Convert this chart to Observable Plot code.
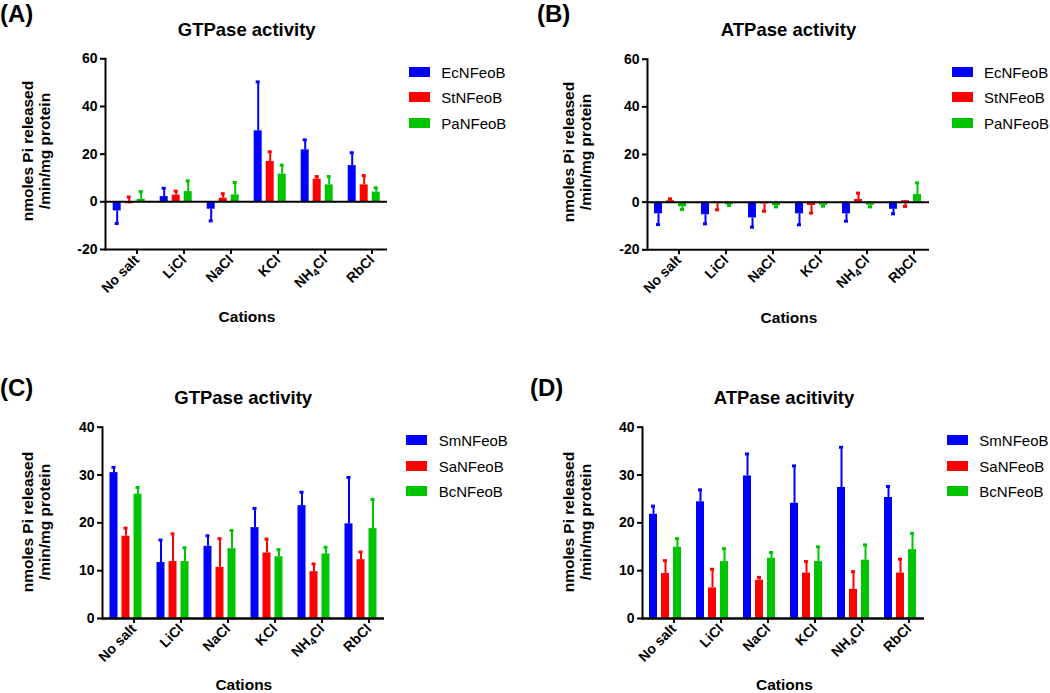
<!DOCTYPE html>
<html><head><meta charset="utf-8">
<script src="https://cdn.jsdelivr.net/npm/d3@7"></script>
<script src="https://cdn.jsdelivr.net/npm/@observablehq/plot@0.6"></script>
<style>
body{margin:0;background:#fff;}
#root{position:relative;width:1050px;height:693px;overflow:hidden;font-family:"Liberation Sans",Arial,sans-serif;color:#000;background:#fff;}
.abs{position:absolute;white-space:nowrap;line-height:1;}
.panel{position:absolute;}
.panel svg text{font-size:14px;font-weight:bold;font-family:"Liberation Sans",Arial,sans-serif;}
</style></head><body><div id="root"></div>
<script>
// ---------- data ----------
const cations = ["No salt", "LiCl", "NaCl", "KCl", "NH₄Cl", "RbCl"];
const seriesAB = ["EcNFeoB", "StNFeoB", "PaNFeoB"];
const seriesCD = ["SmNFeoB", "SaNFeoB", "BcNFeoB"];
const colors = ["#0000ff", "#ff0000", "#00c400"];
const titles = ["GTPase activity", "ATPase activity", "GTPase activity", "ATPase acitivity"];
const panelLetters = ["(A)", "(B)", "(C)", "(D)"];
const xLabel = "Cations";
const yLabelLines = ["nmoles Pi released", "/min/mg protein"];
const ticksAB = [-20, 0, 20, 40, 60];
const ticksCD = [0, 10, 20, 30, 40];

// (A) GTPase, means and error-bar ends
const aEc = [-3.8, 2.2, -3.1, 29.8, 21.8, 15.2];
const aEcErr = [-9.1, 5.7, -8.0, 50.3, 26.0, 20.6];
const aSt = [-0.8, 2.8, 1.5, 16.9, 9.5, 7.1];
const aStErr = [2.0, 4.5, 3.4, 21.0, 10.6, 11.0];
const aPa = [1.1, 4.3, 2.9, 11.6, 7.1, 4.1];
const aPaErr = [4.3, 8.8, 8.1, 15.4, 10.6, 5.9];
// (B) ATPase
const bEc = [-4.9, -5.3, -6.6, -4.9, -4.9, -3.0];
const bEcErr = [-9.4, -9.1, -10.5, -9.5, -8.0, -4.9];
const bSt = [0.6, -0.6, -0.7, -1.4, 1.1, 0.6];
const bStErr = [1.4, -3.2, -3.8, -4.6, 3.8, -1.8];
const bPa = [-2.0, -1.1, -1.5, -1.3, -1.3, 3.2];
const bPaErr = [-3.1, -1.4, -2.0, -1.7, -2.0, 8.1];
// (C) GTPase
const cSm = [30.5, 11.7, 15.1, 19.0, 23.6, 19.8];
const cSmErr = [31.6, 16.4, 17.3, 23.0, 26.4, 29.5];
const cSa = [17.2, 11.9, 10.7, 13.7, 9.8, 12.3];
const cSaErr = [18.9, 17.7, 16.7, 16.6, 11.4, 13.9];
const cBc = [26.0, 11.9, 14.6, 12.9, 13.5, 18.8];
const cBcErr = [27.4, 14.8, 18.4, 14.4, 14.9, 24.9];
// (D) ATPase
const dSm = [21.8, 24.4, 29.8, 24.1, 27.4, 25.3];
const dSmErr = [23.5, 26.9, 34.4, 31.9, 35.8, 27.6];
const dSa = [9.4, 6.4, 8.0, 9.5, 6.1, 9.5];
const dSaErr = [12.1, 10.3, 8.6, 11.9, 9.8, 12.4];
const dBc = [14.9, 11.9, 12.6, 11.9, 12.2, 14.4];
const dBcErr = [16.7, 14.6, 13.8, 15.0, 15.4, 17.8];

// ---------- layout ----------
const root = document.getElementById("root");
const FONT = '"Liberation Sans", Arial, sans-serif';

function addText(txt, x, y, {size = 15, weight = "bold", align = "center", rotate = 0, html = false} = {}) {
  const d = document.createElement("div");
  d.className = "abs";
  if (html) d.innerHTML = txt; else d.textContent = txt;
  d.style.left = x + "px";
  d.style.top = y + "px";
  d.style.fontSize = size + "px";
  d.style.fontWeight = weight;
  d.style.textAlign = "center";
  const tx = align === "center" ? "-50%" : "0";
  d.style.transform = `translate(${tx},-50%)` + (rotate ? ` rotate(${rotate}deg)` : "");
  root.appendChild(d);
  return d;
}

function makePanel(cfg) {
  const rows = [];
  cfg.series.forEach((s, si) => cations.forEach((c, ci) =>
    rows.push({cat: c, s, v: cfg.means[si][ci], e: cfg.ends[si][ci]})));
  const svg = Plot.plot({
    width: 530, height: cfg.h,
    marginLeft: cfg.ml, marginRight: 530 - cfg.xr, marginTop: cfg.mt, marginBottom: cfg.h - cfg.yb,
    style: {fontFamily: FONT, fontSize: "14px", fontWeight: "bold", color: "#000", background: "transparent", overflow: "visible"},
    fx: {domain: cations, padding: 0, label: null},
    x: {domain: cfg.series, paddingInner: 0.33, paddingOuter: 0.49, axis: null},
    y: {domain: [cfg.ticks[0], cfg.ticks[cfg.ticks.length - 1]], label: null, axis: null},
    color: {domain: cfg.series, range: colors},
    marks: [
      Plot.barY(rows, {fx: "cat", x: "s", y1: 0, y2: "v", fill: "s"}),
      Plot.ruleX(rows, {fx: "cat", x: "s", y1: "v", y2: "e", stroke: "s", strokeWidth: 2}),
      Plot.tickY(rows, {fx: "cat", x: "s", y: "e", stroke: "s", strokeWidth: 3, inset: 2}),
      Plot.ruleY([0], {stroke: "#000", strokeWidth: 2}),
      Plot.ruleY([cfg.ticks[0]], {stroke: "#000", strokeWidth: 2}),
      Plot.frame({anchor: "left", facet: "super", stroke: "#000", strokeWidth: 2}),
      Plot.axisY({ticks: cfg.ticks, tickSize: 5, tickPadding: 3, tickFormat: d => String(d), strokeWidth: 2, label: null}),
      Plot.axisFx({anchor: "bottom", tickSize: 5, tickPadding: 3, tickRotate: -45, strokeWidth: 2, label: null, dx: 8})
    ]
  });
  // subscript for NH4Cl
  svg.querySelectorAll("text").forEach(t => {
    if (t.textContent === "NH₄Cl") {
      t.textContent = "";
      const ns = "http://www.w3.org/2000/svg";
      const a = document.createElementNS(ns, "tspan"); a.textContent = "NH";
      const b = document.createElementNS(ns, "tspan"); b.textContent = "4"; b.style.fontSize = "10px"; b.setAttribute("dy", "3");
      const c = document.createElementNS(ns, "tspan"); c.textContent = "Cl"; c.setAttribute("dy", "-3");
      t.append(a, b, c);
    }
  });
  const wrap = document.createElement("div");
  wrap.className = "panel";
  wrap.style.left = cfg.left + "px";
  wrap.style.top = cfg.top + "px";
  wrap.appendChild(svg);
  root.appendChild(wrap);

  // overlays
  addText(cfg.letter, cfg.letterX, cfg.letterY, {size: 24, align: "left"});
  addText(cfg.title, cfg.titleX, cfg.titleY, {size: 18.5});
  addText(xLabel, cfg.xlabX, cfg.xlabY, {size: 15.5});
  addText(yLabelLines.join("<br>"), cfg.ylabX, cfg.ylabY, {size: 15.5, rotate: -90, html: true}).style.lineHeight = "17px";
  cfg.series.forEach((s, i) => {
    const y = cfg.legY + i * 25.7;
    const sw = document.createElement("div");
    sw.className = "abs";
    sw.style.cssText += `left:${cfg.legX}px;top:${y - 5}px;width:21px;height:10px;background:${colors[i]};`;
    root.appendChild(sw);
    addText(s, cfg.legX + 32.3, y, {size: 15, weight: "normal", align: "left"});
  });
}

makePanel({series: seriesAB, means: [aEc, aSt, aPa], ends: [aEcErr, aStErr, aPaErr], ticks: ticksAB,
  left: 0, top: 0, h: 346, ml: 103.3, xr: 388, mt: 58.3, yb: 249,
  letter: panelLetters[0], letterX: 0, letterY: 14, title: titles[0], titleX: 246.7, titleY: 30, xlabX: 247, xlabY: 317,
  ylabX: 35.5, ylabY: 151, legX: 409, legY: 71.5});
makePanel({series: seriesAB, means: [bEc, bSt, bPa], ends: [bEcErr, bStErr, bPaErr], ticks: ticksAB,
  left: 520, top: 0, h: 346, ml: 125, xr: 411, mt: 58.7, yb: 249.3,
  letter: panelLetters[1], letterX: 537, letterY: 14, title: titles[1], titleX: 788.5, titleY: 30, xlabX: 789, xlabY: 318,
  ylabX: 576.5, ylabY: 152, legX: 951.7, legY: 71.5});
makePanel({series: seriesCD, means: [cSm, cSa, cBc], ends: [cSmErr, cSaErr, cBcErr], ticks: ticksCD,
  left: 0, top: 345, h: 348, ml: 99.5, xr: 385.7, mt: 81.7, yb: 273,
  letter: panelLetters[2], letterX: 0, letterY: 388, title: titles[2], titleX: 243.2, titleY: 398, xlabX: 243.8, xlabY: 685,
  ylabX: 36, ylabY: 522, legX: 406.4, legY: 440});
makePanel({series: seriesCD, means: [dSm, dSa, dBc], ends: [dSmErr, dSaErr, dBcErr], ticks: ticksCD,
  left: 520, top: 345, h: 348, ml: 120, xr: 406, mt: 81.7, yb: 273,
  letter: panelLetters[3], letterX: 530, letterY: 388, title: titles[3], titleX: 784, titleY: 398, xlabX: 784.4, xlabY: 685,
  ylabX: 576.7, ylabY: 522, legX: 947, legY: 440});
</script></body></html>
